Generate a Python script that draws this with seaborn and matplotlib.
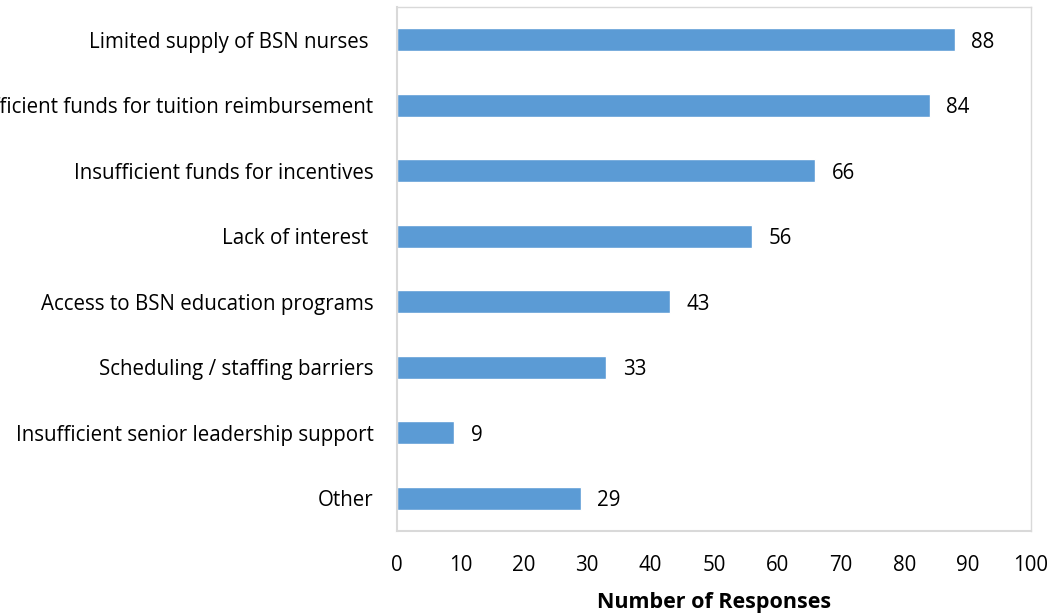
import pandas as pd
import seaborn as sns
import matplotlib.pyplot as plt
from matplotlib.ticker import FixedLocator

# Barriers to increasing BSN nurses (survey responses)
categories = [
    "Limited supply of BSN nurses ",
    "Insufficient funds for tuition reimbursement",
    "Insufficient funds for incentives",
    "Lack of interest ",
    "Access to BSN education programs",
    "Scheduling / staffing barriers",
    "Insufficient senior leadership support",
    "Other",
]
responses = [88, 84, 66, 56, 43, 33, 9, 29]
x_ticks = [0, 10, 20, 30, 40, 50, 60, 70, 80, 90, 100]

sns.set_style("white")
plt.rcParams['font.family'] = ['Open Sans', 'DejaVu Sans']
plt.rcParams['text.color'] = 'black'
plt.rcParams['xtick.color'] = 'black'
plt.rcParams['ytick.color'] = 'black'
FS = 14.8

df = pd.DataFrame({"category": categories, "responses": responses})

fig = plt.figure(figsize=(10.52, 6.15), dpi=100)
ax = fig.add_axes([397 / 1052, 1 - 531 / 615, (1031 - 397) / 1052, (531 - 7) / 615])

sns.barplot(data=df, x="responses", y="category", orient="h", color="#5B9BD5",
            saturation=1, width=0.35, ax=ax)

# value labels
for bar, val in zip(ax.patches, responses):
    ax.text(bar.get_width() + 2.6, bar.get_y() + bar.get_height() / 2, str(val),
            va="center_baseline", ha="left", fontsize=FS, color="black")

ax.set_xlim(0, 100)
ax.set_xticks(x_ticks)
ax.set_ylim(len(categories) - 0.5, -0.5)
ax.set_xlabel("Number of Responses", fontsize=15.5, fontweight="bold", labelpad=12,
              color="black")
ax.set_ylabel("")

# Excel-style frame and ticks
for side in ["top", "right"]:
    ax.spines[side].set_color("#D9D9D9")
    ax.spines[side].set_linewidth(1.0)
for side in ["left", "bottom"]:
    ax.spines[side].set_color("#D9D9D9")
    ax.spines[side].set_linewidth(1.5)

ax.tick_params(axis="x", which="major", direction="out", length=5, width=1.2,
               color="#D9D9D9", labelcolor="black", labelsize=FS, pad=12)
ax.tick_params(axis="y", which="major", length=0, labelsize=FS, pad=17,
               labelcolor="black")
ax.yaxis.set_minor_locator(FixedLocator([i - 0.5 for i in range(len(categories) + 1)]))
ax.tick_params(axis="y", which="minor", direction="out", length=6, width=1.2,
               color="#D9D9D9")

fig.savefig("out.png", dpi=100)
